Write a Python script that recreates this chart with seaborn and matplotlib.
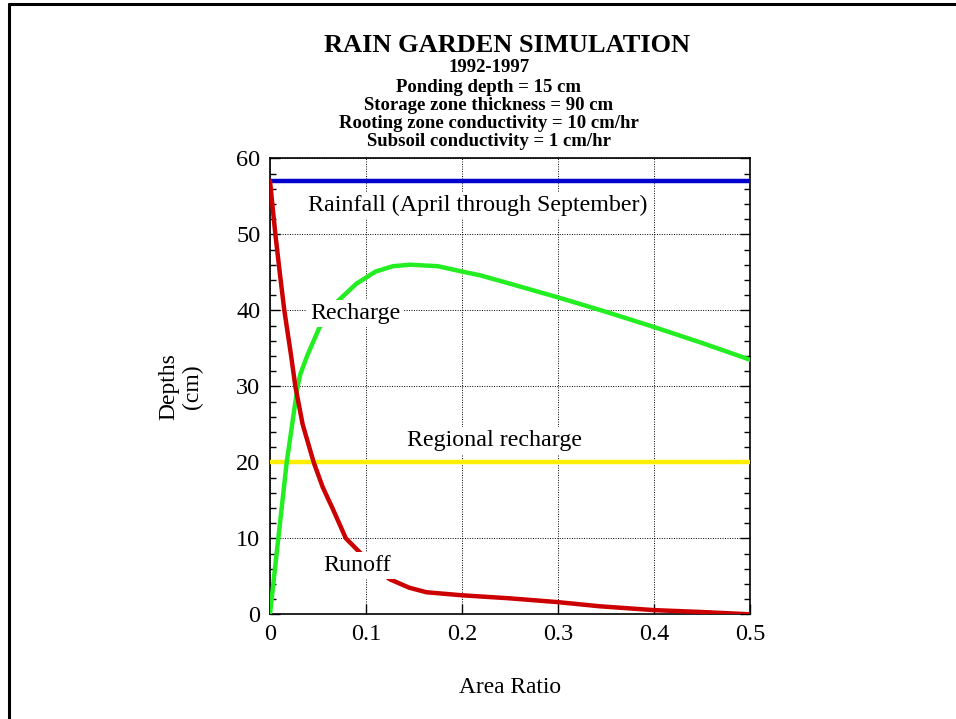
import matplotlib
matplotlib.use("Agg")
import matplotlib.pyplot as plt
from matplotlib.lines import Line2D
from matplotlib.ticker import MultipleLocator
import seaborn as sns
import pandas as pd

# ---- data ----
recharge_x = [0, 0.0056, 0.0174, 0.0288, 0.0316, 0.039, 0.0514, 0.0705, 0.09, 0.11,
              0.128, 0.146, 0.175, 0.2, 0.219, 0.25, 0.3, 0.35, 0.4, 0.45, 0.5]
recharge_y = [0, 6.5, 20, 30, 31.6, 34.1, 37.7, 41.2, 43.5, 45.1,
              45.8, 46.0, 45.8, 45.1, 44.6, 43.5, 41.7, 39.8, 37.8, 35.7, 33.5]

runoff_x = [0, 0.0056, 0.0104, 0.0149, 0.0219, 0.0264, 0.034, 0.0455, 0.055, 0.0653, 0.079, 0.097,
            0.11, 0.125, 0.145, 0.163, 0.2, 0.25, 0.3, 0.344, 0.4, 0.45, 0.5]
runoff_y = [57, 50, 44.7, 40, 34.1, 30, 25, 20, 16.7, 13.9, 10, 7.7,
            6.0, 4.6, 3.5, 2.9, 2.5, 2.1, 1.6, 1.05, 0.55, 0.3, 0]

rain_x = [0, 0.5]
rain_y = [57, 57]
regional_x = [0, 0.5]
regional_y = [20, 20]

x_ticks = [0, 0.1, 0.2, 0.3, 0.4, 0.5]
x_tick_labels = ["0", "0.1", "0.2", "0.3", "0.4", "0.5"]
y_ticks = [0, 10, 20, 30, 40, 50, 60]
y_tick_labels = ["0", "10", "20", "30", "40", "50", "60"]

main_title = "RAIN GARDEN SIMULATION"
title_lines = ["1992-1997", "Ponding depth = 15 cm", "Storage zone thickness = 90 cm",
               "Rooting zone conductivity = 10 cm/hr", "Subsoil conductivity = 1 cm/hr"]

# ---- styling ----
sns.set_style("white")
plt.rcParams['font.family'] = ['Liberation Serif', 'DejaVu Serif']
plt.rcParams['text.color'] = 'black'
plt.rcParams['axes.labelcolor'] = 'black'
plt.rcParams['xtick.color'] = 'black'
plt.rcParams['ytick.color'] = 'black'

fig = plt.figure(figsize=(9.56, 7.19), dpi=100)
ax = fig.add_axes([270/956, 1-614.3/719, 480/956, (614.3-158.3)/719])

lw = 3.2
sns.lineplot(x=rain_x, y=rain_y, ax=ax, color="#0000cc", lw=lw, zorder=3)
sns.lineplot(x=regional_x, y=regional_y, ax=ax, color="#ffee00", lw=lw, zorder=3)
sns.lineplot(x=pd.Series(recharge_x), y=recharge_y, ax=ax, color="#22ee22", lw=lw,
             sort=False, estimator=None, zorder=3)
sns.lineplot(x=pd.Series(runoff_x), y=runoff_y, ax=ax, color="#cc0000", lw=lw,
             sort=False, estimator=None, zorder=3)

ax.set_xlim(0, 0.5)
ax.set_ylim(0, 60)
ax.set_xticks(x_ticks, x_tick_labels)
ax.set_yticks(y_ticks, y_tick_labels)
ax.yaxis.set_minor_locator(MultipleLocator(2))
ax.grid(True, which='major', color='black', linestyle=(0, (1, 1.5)), linewidth=0.7)
ax.tick_params(axis='both', which='both', direction='in', labelsize=17.5,
               left=True, right=True, bottom=True, top=False, colors='black')
ax.tick_params(axis='both', which='major', length=7, width=1, pad=7)
ax.tick_params(axis='y', which='minor', length=4, width=1)
for s in ax.spines.values():
    s.set_color('black')
    s.set_linewidth(1.2)

ax.set_xlabel("Area Ratio", fontsize=16.8, labelpad=23)
ax.set_ylabel("Depths\n(cm)", fontsize=17, labelpad=24, linespacing=1.15)

box = dict(facecolor='white', edgecolor='none', pad=2)
fs = 17.3
ax.text(0.216, 53.8, "Rainfall (April through September)", fontsize=fs,
        ha='center', va='center', bbox=box, zorder=5)
ax.text(0.0885, 39.6, "Recharge", fontsize=fs, ha='center', va='center', bbox=box, zorder=5)
ax.text(0.234, 22.9, "Regional recharge", fontsize=fs, ha='center', va='center', bbox=box, zorder=5)
ax.text(0.091, 6.45, "Runoff", fontsize=fs, ha='center', va='center', bbox=box, zorder=5)

# ---- titles ----
fig.text(507/956, 1-45/719, main_title, ha='center', va='center',
         fontsize=19, fontweight='bold')
ys = [68, 87, 105, 123, 141]
for t, y in zip(title_lines, ys):
    fig.text(489/956, 1-y/719, t, ha='center', va='center', fontsize=13.5, fontweight='bold')

# ---- figure frame (top and left) ----
fig.add_artist(Line2D([8.5/956, 1.0], [1-3.5/719, 1-3.5/719], transform=fig.transFigure,
                      color='black', lw=2.2))
fig.add_artist(Line2D([8.5/956, 8.5/956], [0, 1-3.5/719], transform=fig.transFigure,
                      color='black', lw=2.2))

fig.savefig("out.png", dpi=100)
